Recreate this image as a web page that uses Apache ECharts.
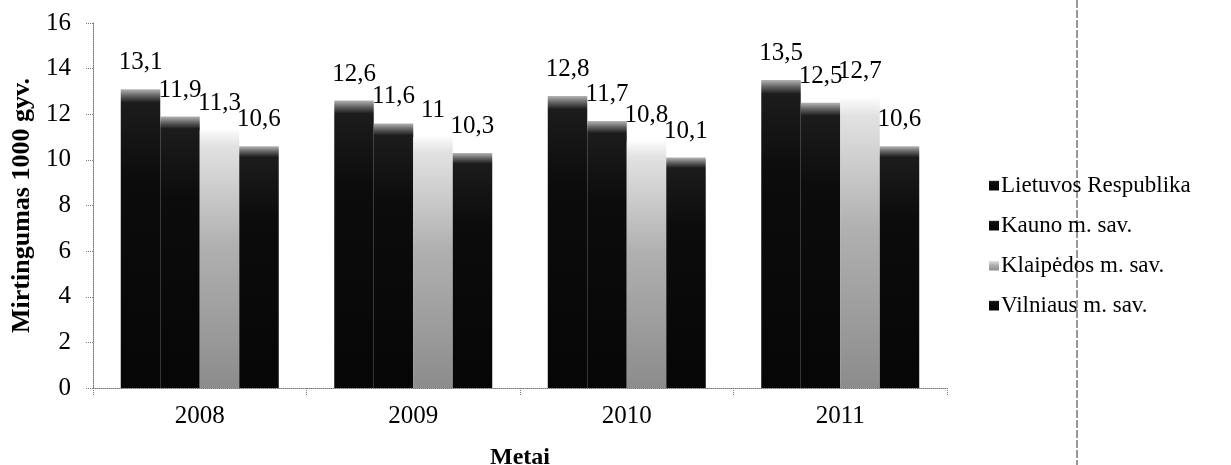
<!DOCTYPE html>
<html>
<head>
<meta charset="utf-8">
<script src="https://cdn.jsdelivr.net/npm/echarts@6/dist/echarts.min.js"></script>
<style>
html,body{margin:0;padding:0;background:#fff;}
#c{width:1231px;height:465px;}
</style>
</head>
<body>
<div id="c"></div>
<script>
var categories = ['2008', '2009', '2010', '2011'];
var seriesNames = ['Lietuvos Respublika', 'Kauno m. sav.', 'Klaipėdos m. sav.', 'Vilniaus m. sav.'];
var lietuvos = [13.1, 12.6, 12.8, 13.5];
var kauno = [11.9, 11.6, 11.7, 12.5];
var klaipedos = [11.3, 11, 10.8, 12.7];
var vilniaus = [10.6, 10.3, 10.1, 10.6];
var yTicks = { min: 0, max: 16, interval: 2 };

var FONT = '"Liberation Serif", "Times New Roman", serif';

function darkGrad(){
  return new echarts.graphic.LinearGradient(0,0,0,1,[
    {offset:0,color:'#b4b4b4'},
    {offset:0.02,color:'#6a6a6a'},
    {offset:0.045,color:'#1c1c1c'},
    {offset:0.3,color:'#0c0c0c'},
    {offset:1,color:'#060606'}
  ]);
}
function lightGrad(){
  return new echarts.graphic.LinearGradient(0,0,0,1,[
    {offset:0,color:'#fbfbfb'},
    {offset:0.06,color:'#e2e2e2'},
    {offset:0.45,color:'#b0b0b0'},
    {offset:1,color:'#8c8c8c'}
  ]);
}

var values = [lietuvos, kauno, klaipedos, vilniaus];
var series = values.map(function(v, i){
  return {
    name: seriesNames[i],
    type: 'bar',
    data: v,
    barGap: '0%',
    barCategoryGap: '26%',
    itemStyle: { color: i === 2 ? lightGrad() : darkGrad() },
    label: {
      show: true,
      position: 'top',
      distance: 14,
      fontFamily: FONT,
      fontSize: 25,
      color: '#000',
      formatter: function(p){ return String(p.value).replace('.', ','); }
    }
  };
});

var chart = echarts.init(document.getElementById('c'), null, {renderer:'canvas'});
chart.setOption({
  animation: false,
  backgroundColor: '#fff',
  grid: { left: 93, right: 284, top: 23, bottom: 77, containLabel: false, outerBoundsMode: 'none' },
  legend: {
    orient: 'vertical',
    left: 984,
    top: 169,
    itemWidth: 10,
    itemHeight: 10,
    itemGap: 17,
    icon: 'rect',
    textStyle: { fontFamily: FONT, fontSize: 23, color: '#000', padding: [0,0,0,-3] },
    data: seriesNames
  },
  xAxis: {
    type: 'category',
    data: categories,
    name: 'Metai',
    nameLocation: 'middle',
    nameGap: 58,
    nameTextStyle: { fontFamily: FONT, fontSize: 24, fontWeight: 'bold', color: '#000' },
    axisLine: { show: true, lineStyle: { color: '#777', type: 'dotted', width: 1 } },
    axisTick: { show: true, length: 7, lineStyle: { color: '#777', type: 'dotted' } },
    axisLabel: { fontFamily: FONT, fontSize: 25, color: '#000', margin: 16 },
    splitLine: { show: false }
  },
  yAxis: {
    type: 'value',
    min: yTicks.min,
    max: yTicks.max,
    interval: yTicks.interval,
    name: 'Mirtingumas 1000 gyv.',
    nameLocation: 'middle',
    nameGap: 58,
    nameTextStyle: { fontFamily: FONT, fontSize: 26, fontWeight: 'bold', color: '#000' },
    axisLine: { show: true, lineStyle: { color: '#777', type: 'dotted', width: 1 } },
    axisTick: { show: true, length: 7, lineStyle: { color: '#777', type: 'dotted' } },
    axisLabel: { fontFamily: FONT, fontSize: 25, color: '#000', margin: 22 },
    splitLine: { show: false }
  },
  graphic: [{
    type: 'line',
    shape: { x1: 1077, y1: 0, x2: 1077, y2: 465 },
    style: { stroke: '#333', lineWidth: 1, lineDash: [8, 2] },
    silent: true
  }],
  series: series
});
</script>
</body>
</html>
